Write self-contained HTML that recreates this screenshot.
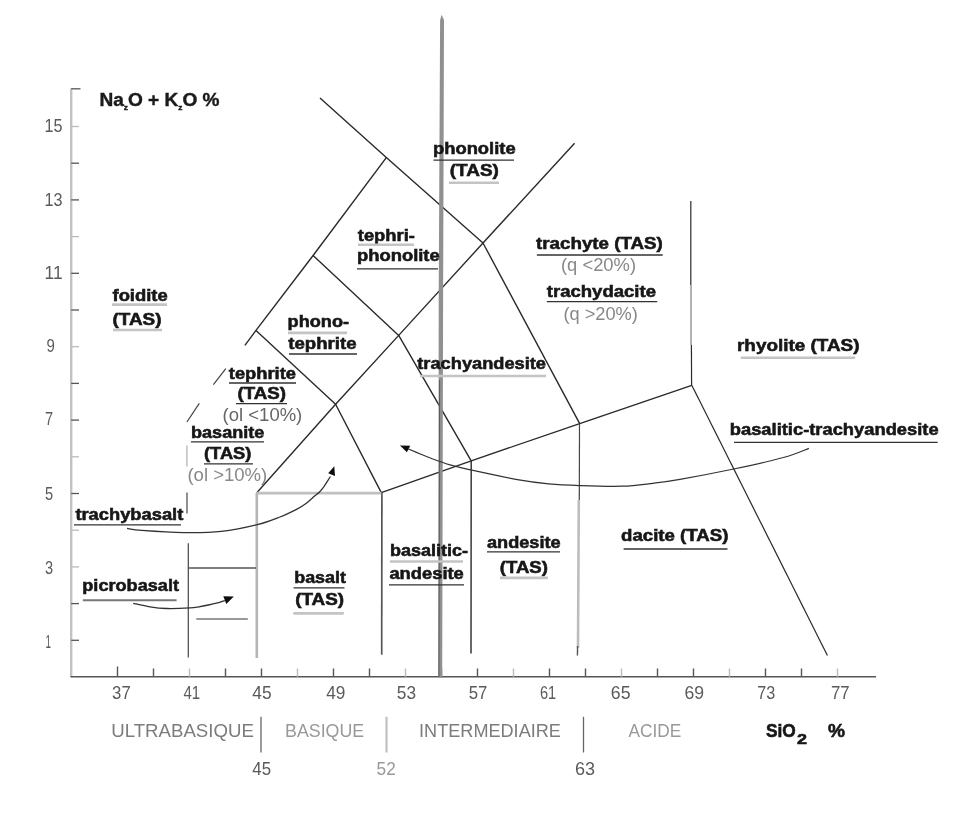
<!DOCTYPE html>
<html><head><meta charset="utf-8"><title>TAS diagram</title>
<style>
html,body{margin:0;padding:0;background:#fff;}
body{width:967px;height:815px;overflow:hidden;font-family:"Liberation Sans",sans-serif;}
svg{display:block;font-family:"Liberation Sans",sans-serif;}
</style></head><body>
<svg width="967" height="815" viewBox="0 0 967 815">
<defs><filter id="b" x="-2%" y="-2%" width="104%" height="104%"><feGaussianBlur stdDeviation="0.45"/></filter></defs>
<rect width="967" height="815" fill="#fff"/>
<g filter="url(#b)">
<line x1="71.2" y1="88.5" x2="71.2" y2="676.8" stroke="#c2c2c2" stroke-width="2.4" />
<line x1="71.2" y1="88.8" x2="80.5" y2="88.8" stroke="#555" stroke-width="1.3" />
<line x1="70.5" y1="676.8" x2="876" y2="676.8" stroke="#555" stroke-width="1.6" />
<line x1="71.2" y1="640.3000000000001" x2="79" y2="640.3000000000001" stroke="#555" stroke-width="1.3" />
<line x1="71.2" y1="603.6" x2="79" y2="603.6" stroke="#555" stroke-width="1.3" />
<line x1="71.2" y1="566.9000000000001" x2="79" y2="566.9000000000001" stroke="#bbb" stroke-width="1.3" />
<line x1="71.2" y1="530.2" x2="79" y2="530.2" stroke="#bbb" stroke-width="1.3" />
<line x1="71.2" y1="493.5" x2="79" y2="493.5" stroke="#555" stroke-width="1.3" />
<line x1="71.2" y1="456.8" x2="79" y2="456.8" stroke="#bbb" stroke-width="1.3" />
<line x1="71.2" y1="420.1" x2="79" y2="420.1" stroke="#555" stroke-width="1.3" />
<line x1="71.2" y1="383.40000000000003" x2="79" y2="383.40000000000003" stroke="#555" stroke-width="1.3" />
<line x1="71.2" y1="346.70000000000005" x2="79" y2="346.70000000000005" stroke="#bbb" stroke-width="1.3" />
<line x1="71.2" y1="310.0" x2="79" y2="310.0" stroke="#555" stroke-width="1.3" />
<line x1="71.2" y1="273.3" x2="79" y2="273.3" stroke="#555" stroke-width="1.3" />
<line x1="71.2" y1="236.60000000000002" x2="79" y2="236.60000000000002" stroke="#bbb" stroke-width="1.3" />
<line x1="71.2" y1="199.9" x2="79" y2="199.9" stroke="#555" stroke-width="1.3" />
<line x1="71.2" y1="163.2" x2="79" y2="163.2" stroke="#555" stroke-width="1.3" />
<line x1="71.2" y1="126.5" x2="79" y2="126.5" stroke="#bbb" stroke-width="1.3" />
<line x1="117.5" y1="666.5" x2="117.5" y2="676.8" stroke="#555" stroke-width="1.4" />
<line x1="153.5" y1="668.5" x2="153.5" y2="676.8" stroke="#555" stroke-width="1.4" />
<line x1="189.5" y1="668.5" x2="189.5" y2="676.8" stroke="#bbb" stroke-width="1.4" />
<line x1="225.5" y1="668.5" x2="225.5" y2="676.8" stroke="#555" stroke-width="1.4" />
<line x1="261.5" y1="668.5" x2="261.5" y2="676.8" stroke="#555" stroke-width="1.4" />
<line x1="297.5" y1="668.5" x2="297.5" y2="676.8" stroke="#bbb" stroke-width="1.4" />
<line x1="333.5" y1="668.5" x2="333.5" y2="676.8" stroke="#555" stroke-width="1.4" />
<line x1="369.5" y1="668.5" x2="369.5" y2="676.8" stroke="#555" stroke-width="1.4" />
<line x1="405.5" y1="668.5" x2="405.5" y2="676.8" stroke="#bbb" stroke-width="1.4" />
<line x1="441.5" y1="668.5" x2="441.5" y2="676.8" stroke="#555" stroke-width="1.4" />
<line x1="477.5" y1="668.5" x2="477.5" y2="676.8" stroke="#555" stroke-width="1.4" />
<line x1="513.5" y1="668.5" x2="513.5" y2="676.8" stroke="#bbb" stroke-width="1.4" />
<line x1="549.5" y1="668.5" x2="549.5" y2="676.8" stroke="#555" stroke-width="1.4" />
<line x1="585.5" y1="668.5" x2="585.5" y2="676.8" stroke="#555" stroke-width="1.4" />
<line x1="621.5" y1="668.5" x2="621.5" y2="676.8" stroke="#bbb" stroke-width="1.4" />
<line x1="657.5" y1="668.5" x2="657.5" y2="676.8" stroke="#555" stroke-width="1.4" />
<line x1="693.5" y1="668.5" x2="693.5" y2="676.8" stroke="#555" stroke-width="1.4" />
<line x1="729.5" y1="668.5" x2="729.5" y2="676.8" stroke="#bbb" stroke-width="1.4" />
<line x1="765.5" y1="668.5" x2="765.5" y2="676.8" stroke="#555" stroke-width="1.4" />
<line x1="801.5" y1="668.5" x2="801.5" y2="676.8" stroke="#555" stroke-width="1.4" />
<line x1="837.5" y1="668.5" x2="837.5" y2="676.8" stroke="#bbb" stroke-width="1.4" />
<polyline points="320,98 386.3,157.6 483,243 579.7,423.6" fill="none" stroke="#2a2a2a" stroke-width="1.4" stroke-linejoin="round"/>
<polyline points="256.8,492.7 335.6,404.3 398.7,335.4 483,243 574.6,143.2" fill="none" stroke="#2a2a2a" stroke-width="1.4" stroke-linejoin="round"/>
<polyline points="386.3,157.6 313.1,255.5 256,330.4 244.9,345.3" fill="none" stroke="#2a2a2a" stroke-width="1.4" stroke-linejoin="round"/>
<polyline points="313.1,255.5 398.7,335.4 471.2,460.8 471.0,653.5" fill="none" stroke="#2a2a2a" stroke-width="1.4" stroke-linejoin="round"/>
<polyline points="256,330.4 335.6,404.3 381.3,492.6" fill="none" stroke="#2a2a2a" stroke-width="1.4" stroke-linejoin="round"/>
<line x1="381.90000000000003" y1="492.6" x2="381.7" y2="654.7" stroke="#555" stroke-width="1.7" />
<polyline points="381.3,492.6 471.2,460.8 579.7,423.6 691.8,385.3" fill="none" stroke="#2a2a2a" stroke-width="1.4" stroke-linejoin="round"/>
<line x1="690.8" y1="201" x2="690.8" y2="285" stroke="#2a2a2a" stroke-width="1.2" />
<line x1="691" y1="285" x2="691" y2="345" stroke="#aaa" stroke-width="1.8" />
<line x1="691.4" y1="345" x2="691.6" y2="385.3" stroke="#2a2a2a" stroke-width="1.2" />
<line x1="691.8" y1="385.3" x2="827.4" y2="655.5" stroke="#2a2a2a" stroke-width="1.2" />
<line x1="579.5" y1="423.6" x2="579.3" y2="500" stroke="#444" stroke-width="1.2" />
<line x1="578.8" y1="500" x2="578.0" y2="648" stroke="#bdbdbd" stroke-width="2.6" />
<line x1="577.6" y1="646" x2="577.4" y2="655.5" stroke="#555" stroke-width="1.4" />
<line x1="256.8" y1="493.1" x2="381.3" y2="493.1" stroke="#c0c0c0" stroke-width="2.8" />
<line x1="256.8" y1="493" x2="256.8" y2="658" stroke="#b5b5b5" stroke-width="2.6" />
<line x1="188.3" y1="543.3" x2="188.3" y2="657.4" stroke="#444" stroke-width="1.2" />
<line x1="187" y1="492.4" x2="187" y2="513.5" stroke="#555" stroke-width="1.3" />
<line x1="186.9" y1="445.5" x2="186.9" y2="466.6" stroke="#bbb" stroke-width="1.4" />
<line x1="188.3" y1="568" x2="256" y2="568" stroke="#555" stroke-width="1.3" />
<line x1="196.3" y1="619" x2="247.8" y2="619" stroke="#777" stroke-width="1.5" />
<line x1="213.4" y1="384.7" x2="225.8" y2="368.6" stroke="#444" stroke-width="1.2" />
<line x1="186.9" y1="422" x2="199.3" y2="403.3" stroke="#444" stroke-width="1.2" />
<polygon points="441.6,14.7 444.0,20 443.1,300 442.2,677.7 438.3,677.7 438.7,300 440.1,20" fill="#909090"/>
<line x1="439.6" y1="380" x2="438.9" y2="677" stroke="#5a5a5a" stroke-width="1.0" />
<path d="M127.0,528.4 C129.5,528.7 132.4,529.7 141.9,530.4 C151.4,531.1 170.8,532.4 184.0,532.6 C197.2,532.8 209.1,532.7 221.3,531.4 C233.5,530.1 247.5,527.1 257.3,524.7 C267.1,522.3 273.3,519.6 280.0,517.0 C286.7,514.4 293.1,511.1 297.4,508.9 C301.7,506.6 303.2,505.6 306.0,503.5 C308.8,501.4 312.1,498.2 314.3,496.3 C316.6,494.4 318.0,493.5 319.5,492.0 C321.0,490.5 321.6,489.9 323.4,487.3 C325.2,484.7 329.2,478.3 330.4,476.5" fill="none" stroke="#333" stroke-width="1.3"/>
<polygon points="334.3,466.3 335,476 328.2,473.3" fill="#111"/>
<path d="M133.2,603.3 C136.0,603.9 144.4,605.9 150.0,606.8 C155.6,607.7 160.0,608.3 166.7,608.5 C173.4,608.7 184.7,608.2 190.0,607.9 C195.3,607.6 195.7,607.3 198.8,606.8 C201.9,606.3 205.0,605.7 208.4,605.0 C211.8,604.3 216.7,603.1 219.5,602.4 C222.3,601.6 224.1,600.8 225.0,600.5" fill="none" stroke="#333" stroke-width="1.3"/>
<polygon points="223.3,596.2 233.8,596.4 226.3,603.9" fill="#111"/>
<path d="M808.9,448.4 C804.6,449.9 795.9,454.1 783.4,457.5 C770.9,460.9 750.9,465.4 733.7,469.0 C716.5,472.6 693.5,477.0 680.0,479.4 C666.5,481.8 662.7,482.2 653.0,483.3 C643.3,484.4 634.2,485.8 622.0,486.2 C609.8,486.6 591.9,486.0 579.7,485.6 C567.5,485.2 558.8,484.8 548.7,483.9 C538.6,482.9 531.3,482.1 518.9,479.9 C506.5,477.7 485.7,473.2 474.2,470.7 C462.7,468.2 455.8,466.5 450.0,464.9 C444.2,463.3 442.3,462.2 439.3,461.2 C436.3,460.2 435.1,459.9 432.0,458.7 C428.9,457.5 424.8,455.8 420.9,454.2 C417.0,452.6 410.6,449.9 408.5,449.0" fill="none" stroke="#333" stroke-width="1.2"/>
<polygon points="400,445.5 410.2,445.8 406.9,452.3" fill="#111"/>
<text x="433" y="154.2" font-size="16.5" font-weight="bold" fill="#151515" textLength="82.6" lengthAdjust="spacingAndGlyphs"  stroke="#151515" stroke-width="0.55">phonolite</text>
<line x1="433.5" y1="160.2" x2="514" y2="160.2" stroke="#333" stroke-width="1.3" />
<text x="449.8" y="175.6" font-size="16.5" font-weight="bold" fill="#151515" textLength="49.0" lengthAdjust="spacingAndGlyphs"  stroke="#151515" stroke-width="0.55">(TAS)</text>
<line x1="449" y1="182.7" x2="499" y2="182.7" stroke="#c4c4c4" stroke-width="2.6" />
<text x="357.8" y="241" font-size="16.5" font-weight="bold" fill="#151515" textLength="57.1" lengthAdjust="spacingAndGlyphs"  stroke="#151515" stroke-width="0.55">tephri-</text>
<line x1="358" y1="244.8" x2="414" y2="244.8" stroke="#c4c4c4" stroke-width="2.6" />
<text x="357" y="261" font-size="16.5" font-weight="bold" fill="#151515" textLength="82.7" lengthAdjust="spacingAndGlyphs"  stroke="#151515" stroke-width="0.55">phonolite</text>
<line x1="357" y1="268.9" x2="438" y2="268.9" stroke="#333" stroke-width="1.3" />
<text x="287.6" y="326.7" font-size="16.5" font-weight="bold" fill="#151515" textLength="61.4" lengthAdjust="spacingAndGlyphs"  stroke="#151515" stroke-width="0.55">phono-</text>
<line x1="288" y1="332.9" x2="347" y2="332.9" stroke="#c4c4c4" stroke-width="2.6" />
<text x="288.3" y="349" font-size="16.5" font-weight="bold" fill="#151515" textLength="68.2" lengthAdjust="spacingAndGlyphs"  stroke="#151515" stroke-width="0.55">tephrite</text>
<line x1="289" y1="354" x2="357" y2="354" stroke="#333" stroke-width="1.3" />
<text x="228.8" y="378.5" font-size="16.5" font-weight="bold" fill="#151515" textLength="67.2" lengthAdjust="spacingAndGlyphs"  stroke="#151515" stroke-width="0.55">tephrite</text>
<line x1="229" y1="383" x2="296" y2="383" stroke="#333" stroke-width="1.3" />
<text x="237.5" y="398.6" font-size="16.5" font-weight="bold" fill="#151515" textLength="48.5" lengthAdjust="spacingAndGlyphs"  stroke="#151515" stroke-width="0.55">(TAS)</text>
<line x1="236" y1="403.6" x2="287" y2="403.6" stroke="#333" stroke-width="1.3" />
<text x="222.6" y="420.7" font-size="17.5" font-weight="normal" fill="#666" textLength="79.7" lengthAdjust="spacingAndGlyphs" >(ol &lt;10%)</text>
<text x="191" y="438" font-size="16.5" font-weight="bold" fill="#151515" textLength="73.3" lengthAdjust="spacingAndGlyphs"  stroke="#151515" stroke-width="0.55">basanite</text>
<line x1="191" y1="441.8" x2="264" y2="441.8" stroke="#333" stroke-width="1.3" />
<text x="204" y="459.2" font-size="16.5" font-weight="bold" fill="#151515" textLength="47.4" lengthAdjust="spacingAndGlyphs"  stroke="#151515" stroke-width="0.55">(TAS)</text>
<line x1="204" y1="463.8" x2="253" y2="463.8" stroke="#333" stroke-width="1.3" />
<text x="187.4" y="481" font-size="17.5" font-weight="normal" fill="#888" textLength="79.9" lengthAdjust="spacingAndGlyphs" >(ol &gt;10%)</text>
<text x="112.5" y="300.6" font-size="16.5" font-weight="bold" fill="#151515" textLength="55.2" lengthAdjust="spacingAndGlyphs"  stroke="#151515" stroke-width="0.55">foidite</text>
<line x1="112" y1="304.6" x2="167" y2="304.6" stroke="#c4c4c4" stroke-width="2.6" />
<text x="112.5" y="324.5" font-size="16.5" font-weight="bold" fill="#151515" textLength="49.0" lengthAdjust="spacingAndGlyphs"  stroke="#151515" stroke-width="0.55">(TAS)</text>
<line x1="113" y1="330" x2="162" y2="330" stroke="#c4c4c4" stroke-width="2.6" />
<text x="417.3" y="368.8" font-size="16.5" font-weight="bold" fill="#151515" textLength="128.7" lengthAdjust="spacingAndGlyphs"  stroke="#151515" stroke-width="0.55">trachyandesite</text>
<line x1="420" y1="376" x2="546" y2="376" stroke="#c4c4c4" stroke-width="2.6" />
<text x="536.1" y="248.8" font-size="16.5" font-weight="bold" fill="#151515" textLength="126.6" lengthAdjust="spacingAndGlyphs"  stroke="#151515" stroke-width="0.55">trachyte (TAS)</text>
<line x1="536.9" y1="255" x2="662.7" y2="255" stroke="#333" stroke-width="1.3" />
<text x="561" y="270.6" font-size="17.5" font-weight="normal" fill="#888" textLength="75.0" lengthAdjust="spacingAndGlyphs" >(q &lt;20%)</text>
<text x="546.8" y="296.7" font-size="16.5" font-weight="bold" fill="#151515" textLength="109.2" lengthAdjust="spacingAndGlyphs"  stroke="#151515" stroke-width="0.55">trachydacite</text>
<line x1="546.8" y1="301.7" x2="657.2" y2="301.7" stroke="#333" stroke-width="1.3" />
<text x="563.4" y="320.3" font-size="17.5" font-weight="normal" fill="#888" textLength="74.5" lengthAdjust="spacingAndGlyphs" >(q &gt;20%)</text>
<text x="737" y="350.5" font-size="16.5" font-weight="bold" fill="#151515" textLength="122.5" lengthAdjust="spacingAndGlyphs"  stroke="#151515" stroke-width="0.55">rhyolite (TAS)</text>
<line x1="740.8" y1="357.8" x2="855.2" y2="357.8" stroke="#c4c4c4" stroke-width="2.6" />
<text x="729.8" y="435.4" font-size="16.5" font-weight="bold" fill="#151515" textLength="208.8" lengthAdjust="spacingAndGlyphs"  stroke="#151515" stroke-width="0.55">basalitic-trachyandesite</text>
<line x1="734" y1="442.3" x2="937.7" y2="442.3" stroke="#333" stroke-width="1.3" />
<text x="75.4" y="520.4" font-size="16.5" font-weight="bold" fill="#151515" textLength="107.9" lengthAdjust="spacingAndGlyphs"  stroke="#151515" stroke-width="0.55">trachybasalt</text>
<line x1="74" y1="524.9" x2="181" y2="524.9" stroke="#333" stroke-width="1.3" />
<text x="82.3" y="591" font-size="16.5" font-weight="bold" fill="#151515" textLength="96.7" lengthAdjust="spacingAndGlyphs"  stroke="#151515" stroke-width="0.55">picrobasalt</text>
<line x1="82.8" y1="600.3" x2="176.6" y2="600.3" stroke="#777" stroke-width="2.0" />
<text x="294.2" y="583.4" font-size="16.5" font-weight="bold" fill="#151515" textLength="51.8" lengthAdjust="spacingAndGlyphs"  stroke="#151515" stroke-width="0.55">basalt</text>
<line x1="293.6" y1="587.8" x2="344.5" y2="587.8" stroke="#333" stroke-width="1.3" />
<text x="295.2" y="605.4" font-size="16.5" font-weight="bold" fill="#151515" textLength="48.9" lengthAdjust="spacingAndGlyphs"  stroke="#151515" stroke-width="0.55">(TAS)</text>
<line x1="293.3" y1="613.4" x2="343.8" y2="613.4" stroke="#c4c4c4" stroke-width="2.6" />
<text x="389.9" y="556.3" font-size="16.5" font-weight="bold" fill="#151515" textLength="78.1" lengthAdjust="spacingAndGlyphs"  stroke="#151515" stroke-width="0.55">basalitic-</text>
<line x1="389.9" y1="561.5" x2="463" y2="561.5" stroke="#c4c4c4" stroke-width="2.6" />
<text x="389.4" y="578.7" font-size="16.5" font-weight="bold" fill="#151515" textLength="74.4" lengthAdjust="spacingAndGlyphs"  stroke="#151515" stroke-width="0.55">andesite</text>
<line x1="389" y1="584.9" x2="464" y2="584.9" stroke="#333" stroke-width="1.3" />
<text x="487" y="547.6" font-size="16.5" font-weight="bold" fill="#151515" textLength="73.6" lengthAdjust="spacingAndGlyphs"  stroke="#151515" stroke-width="0.55">andesite</text>
<line x1="487" y1="551.9" x2="560" y2="551.9" stroke="#333" stroke-width="1.3" />
<text x="499.8" y="572.5" font-size="16.5" font-weight="bold" fill="#151515" textLength="48.1" lengthAdjust="spacingAndGlyphs"  stroke="#151515" stroke-width="0.55">(TAS)</text>
<line x1="500" y1="577.9" x2="548" y2="577.9" stroke="#c4c4c4" stroke-width="2.6" />
<text x="621" y="541.3" font-size="16.5" font-weight="bold" fill="#151515" textLength="107.5" lengthAdjust="spacingAndGlyphs"  stroke="#151515" stroke-width="0.55">dacite (TAS)</text>
<line x1="623.6" y1="549" x2="727.5" y2="549" stroke="#333" stroke-width="1.3" />
<text x="99.4" y="106.4" font-size="18.3" stroke="#1a1a1a" stroke-width="0.4" font-weight="bold" fill="#1a1a1a" textLength="120.2" lengthAdjust="spacingAndGlyphs">Na<tspan font-size="8" dy="3.5">z</tspan><tspan dy="-3.5">O + K</tspan><tspan font-size="8" dy="3.5">z</tspan><tspan dy="-3.5">O %</tspan></text>
<text x="766" y="737" font-size="18.5" font-weight="bold" fill="#151515" textLength="29.8" lengthAdjust="spacingAndGlyphs"  stroke="#151515" stroke-width="0.55">SiO</text>
<text x="797" y="743.8" font-size="15" font-weight="bold" fill="#151515" textLength="10.0" lengthAdjust="spacingAndGlyphs"  stroke="#151515" stroke-width="0.55">2</text>
<text x="828" y="737" font-size="18.5" font-weight="bold" fill="#151515" textLength="17.0" lengthAdjust="spacingAndGlyphs"  stroke="#151515" stroke-width="0.55">%</text>
<text x="44.6" y="132.4" font-size="18.5" font-weight="normal" fill="#5a5a5a" textLength="18.0" lengthAdjust="spacingAndGlyphs" >15</text>
<text x="44.6" y="206" font-size="18.5" font-weight="normal" fill="#5a5a5a" textLength="18.0" lengthAdjust="spacingAndGlyphs" >13</text>
<text x="44.6" y="279.3" font-size="18.5" font-weight="normal" fill="#5a5a5a" textLength="18.0" lengthAdjust="spacingAndGlyphs" >11</text>
<text x="46.6" y="352.1" font-size="18.5" font-weight="normal" fill="#5a5a5a" textLength="8.4" lengthAdjust="spacingAndGlyphs" >9</text>
<text x="44.9" y="425.3" font-size="18.5" font-weight="normal" fill="#5a5a5a" textLength="8.1" lengthAdjust="spacingAndGlyphs" >7</text>
<text x="44.9" y="499.6" font-size="18.5" font-weight="normal" fill="#5a5a5a" textLength="8.1" lengthAdjust="spacingAndGlyphs" >5</text>
<text x="44.9" y="574.4" font-size="18.5" font-weight="normal" fill="#5a5a5a" textLength="8.1" lengthAdjust="spacingAndGlyphs" >3</text>
<text x="45.5" y="648" font-size="18.5" font-weight="normal" fill="#5a5a5a" textLength="5.5" lengthAdjust="spacingAndGlyphs" >1</text>
<text x="112.1" y="699.4" font-size="18.5" font-weight="normal" fill="#5a5a5a" textLength="18.6" lengthAdjust="spacingAndGlyphs" >37</text>
<text x="183.5" y="699.4" font-size="18.5" font-weight="normal" fill="#5a5a5a" textLength="16.7" lengthAdjust="spacingAndGlyphs" >41</text>
<text x="252.3" y="699.4" font-size="18.5" font-weight="normal" fill="#5a5a5a" textLength="19.3" lengthAdjust="spacingAndGlyphs" >45</text>
<text x="326.2" y="699.4" font-size="18.5" font-weight="normal" fill="#5a5a5a" textLength="19.2" lengthAdjust="spacingAndGlyphs" >49</text>
<text x="396.8" y="699.4" font-size="18.5" font-weight="normal" fill="#5a5a5a" textLength="19.2" lengthAdjust="spacingAndGlyphs" >53</text>
<text x="468.7" y="699.4" font-size="18.5" font-weight="normal" fill="#5a5a5a" textLength="18.7" lengthAdjust="spacingAndGlyphs" >57</text>
<text x="540" y="699.4" font-size="18.5" font-weight="normal" fill="#5a5a5a" textLength="16.2" lengthAdjust="spacingAndGlyphs" >61</text>
<text x="610.8" y="699.4" font-size="18.5" font-weight="normal" fill="#5a5a5a" textLength="19.7" lengthAdjust="spacingAndGlyphs" >65</text>
<text x="684.4" y="699.4" font-size="18.5" font-weight="normal" fill="#5a5a5a" textLength="19.6" lengthAdjust="spacingAndGlyphs" >69</text>
<text x="757.3" y="699.4" font-size="18.5" font-weight="normal" fill="#5a5a5a" textLength="18.0" lengthAdjust="spacingAndGlyphs" >73</text>
<text x="831" y="699.4" font-size="18.5" font-weight="normal" fill="#5a5a5a" textLength="18.7" lengthAdjust="spacingAndGlyphs" >77</text>
<text x="111.2" y="736.9" font-size="18.5" font-weight="normal" fill="#7c7c7c" textLength="142.7" lengthAdjust="spacingAndGlyphs" >ULTRABASIQUE</text>
<text x="285" y="736.9" font-size="18.5" font-weight="normal" fill="#999" textLength="79.2" lengthAdjust="spacingAndGlyphs" >BASIQUE</text>
<text x="419.1" y="736.9" font-size="18.5" font-weight="normal" fill="#7c7c7c" textLength="141.8" lengthAdjust="spacingAndGlyphs" >INTERMEDIAIRE</text>
<text x="628.5" y="736.9" font-size="18.5" font-weight="normal" fill="#999" textLength="52.8" lengthAdjust="spacingAndGlyphs" >ACIDE</text>
<line x1="261" y1="716.8" x2="261" y2="752.5" stroke="#666" stroke-width="1.3" />
<line x1="386.5" y1="716.8" x2="386.5" y2="752.5" stroke="#c0c0c0" stroke-width="2.2" />
<line x1="583.5" y1="716.8" x2="583.5" y2="752.5" stroke="#666" stroke-width="1.3" />
<text x="252.3" y="774.8" font-size="18.5" font-weight="normal" fill="#5a5a5a" textLength="18.7" lengthAdjust="spacingAndGlyphs" >45</text>
<text x="376.6" y="774.8" font-size="18.5" font-weight="normal" fill="#999" textLength="19.2" lengthAdjust="spacingAndGlyphs" >52</text>
<text x="574.9" y="774.8" font-size="18.5" font-weight="normal" fill="#5a5a5a" textLength="20.1" lengthAdjust="spacingAndGlyphs" >63</text>
</g>
</svg>
</body></html>
